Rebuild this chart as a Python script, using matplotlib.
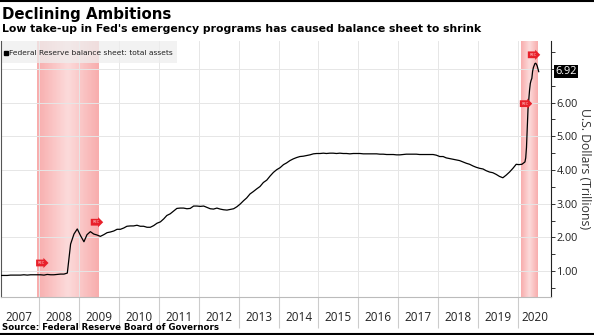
import numpy as np
import pandas as pd
import matplotlib
matplotlib.use("Agg")
import matplotlib.pyplot as plt
from matplotlib.patches import Rectangle

# Fed balance sheet, total assets (USD trillions), monthly 2007-2019
monthly = {
    2007: [0.87, 0.87, 0.87, 0.88, 0.88, 0.88, 0.88, 0.89, 0.88, 0.89, 0.89, 0.89],
    2008: [0.89, 0.88, 0.90, 0.89, 0.89, 0.90, 0.91, 0.91, 0.94, 1.80, 2.10, 2.25],
    2009: [2.05, 1.87, 2.08, 2.17, 2.10, 2.07, 2.03, 2.08, 2.14, 2.16, 2.19, 2.24],
    2010: [2.24, 2.28, 2.33, 2.34, 2.34, 2.36, 2.33, 2.33, 2.30, 2.30, 2.35, 2.42],
    2011: [2.46, 2.55, 2.65, 2.70, 2.78, 2.86, 2.87, 2.87, 2.85, 2.86, 2.93, 2.93],
    2012: [2.92, 2.93, 2.89, 2.85, 2.84, 2.87, 2.84, 2.82, 2.81, 2.83, 2.85, 2.91],
    2013: [2.99, 3.09, 3.17, 3.29, 3.36, 3.44, 3.51, 3.63, 3.70, 3.82, 3.93, 4.01],
    2014: [4.07, 4.16, 4.21, 4.28, 4.33, 4.37, 4.40, 4.41, 4.43, 4.45, 4.48, 4.49],
    2015: [4.49, 4.50, 4.49, 4.50, 4.50, 4.49, 4.50, 4.49, 4.49, 4.48, 4.49, 4.49],
    2016: [4.49, 4.48, 4.48, 4.48, 4.48, 4.48, 4.47, 4.47, 4.46, 4.46, 4.46, 4.45],
    2017: [4.45, 4.46, 4.47, 4.47, 4.47, 4.47, 4.46, 4.46, 4.46, 4.46, 4.46, 4.44],
    2018: [4.40, 4.40, 4.36, 4.34, 4.32, 4.30, 4.28, 4.24, 4.20, 4.17, 4.12, 4.08],
    2019: [4.05, 4.03, 3.98, 3.94, 3.92, 3.87, 3.81, 3.77, 3.85, 3.94, 4.05, 4.17],
}
dates_2020 = ["2020-01-08", "2020-02-05", "2020-03-04", "2020-03-11", "2020-03-18",
              "2020-03-25", "2020-04-01", "2020-04-08", "2020-04-15", "2020-04-22",
              "2020-04-29", "2020-05-06", "2020-05-13", "2020-05-20", "2020-05-27",
              "2020-06-03", "2020-06-10", "2020-06-17", "2020-06-24", "2020-07-01",
              "2020-07-08"]
values_2020 = [4.16, 4.17, 4.24, 4.36, 4.67, 5.25, 5.81, 6.08, 6.37, 6.57,
               6.66, 6.72, 6.93, 7.04, 7.10, 7.16, 7.17, 7.14, 7.09, 7.00, 6.92]

recessions = [(2007.95, 2009.5), (2020.08, 2020.5)]
tag_x = [2008.05, 2009.42, 2020.17, 2020.37]
tag_y = [1.24, 2.45, 5.97, 7.42]
years = list(range(2007, 2021))
y_ticks = [1, 2, 3, 4, 5, 6]
last_value = 6.92


def decimal_year(ts):
    ts = pd.to_datetime(ts)
    return ts.year + (ts.dayofyear - 1) / 365.0


dates = []
values = []
for yr, vals in monthly.items():
    for m, v in enumerate(vals):
        dates.append(f"{yr}-{m + 1:02d}-15")
        values.append(v)
dates += dates_2020
values += values_2020
x = np.array([decimal_year(d) for d in dates])
y = np.array(values)

fig = plt.figure(figsize=(5.94, 3.35), dpi=100)
ax = fig.add_axes([0.002, 1 - 297 / 335, 550 / 594, 256 / 335])
xmin, xmax = 2007.05, 2020.83
ymin, ymax = 0.23, 7.83
ax.set_xlim(xmin, xmax)
ax.set_ylim(ymin, ymax)

# shaded recession bands, lighter in the middle
grad = 1 - np.abs(np.linspace(-1, 1, 64))[None, :]
cmap = matplotlib.colors.LinearSegmentedColormap.from_list("rb", ["#f8adad", "#fcdada"])
for x0, x1 in recessions:
    ax.imshow(grad, extent=(x0, x1, ymin, ymax), aspect="auto", cmap=cmap,
              zorder=0, interpolation="bilinear")

ax.grid(True, color="#e6e6e6", linewidth=0.7, zorder=1)
ax.set_axisbelow(True)

ax.plot(x, y, color="black", linewidth=0.9, zorder=3)

for tx, ty in zip(tag_x, tag_y):
    ax.annotate("REC", (tx, ty), fontsize=2.5, color="#ffcccc", ha="center", va="center",
                bbox=dict(boxstyle="rarrow,pad=0.4", fc="#e8202a", ec="none"), zorder=4)

# legend strip
ax.add_patch(Rectangle((0, 0.915), 0.32, 0.085, transform=ax.transAxes,
                       fc="#eeeeee", ec="none", alpha=0.75, zorder=2))
ax.plot([0.008], [0.955], marker="s", color="black", markersize=3.2,
        transform=ax.transAxes, zorder=5)
ax.text(0.015, 0.955, "Federal Reserve balance sheet: total assets", transform=ax.transAxes,
        fontsize=5.4, va="center", ha="left", color="#222222", zorder=5)

# x axis: boundaries as major ticks, year labels in between
ax.set_xticks(years[1:])
ax.set_xticklabels([])
ax.set_xticks([yr + 0.5 if yr < 2020 else (2020 + xmax) / 2 for yr in years], minor=True)
ax.set_xticklabels([str(yr) for yr in years], minor=True, fontsize=8.5,
                   family="Open Sans", color="#222222")
ax.tick_params(axis="x", which="major", length=22, color="#cccccc", width=0.8)
ax.tick_params(axis="x", which="minor", length=0, pad=10)

# y axis on the right
ax.yaxis.tick_right()
ax.set_yticks(y_ticks + [7])
ax.set_yticklabels([f"{v:.2f}" for v in y_ticks] + [""], fontsize=7.8,
                   family="Open Sans", color="#222222")
ax.set_yticks(np.arange(0.5, 8, 1), minor=True)
ax.tick_params(axis="y", which="both", length=3, width=0.7, color="#333333", pad=1)
ax.yaxis.set_label_position("right")
ax.set_ylabel("U.S. Dollars (Trillions)", rotation=270, fontsize=8.8,
              family="Open Sans", color="#333333", labelpad=9)

ax.spines["top"].set_visible(False)
ax.spines["bottom"].set_color("#bbbbbb")
ax.spines["left"].set_color("#555555")
ax.spines["right"].set_color("#222222")
ax.spines["right"].set_linewidth(0.8)

ax.annotate(f"{last_value:.2f}", (xmax, last_value), xytext=(3, 0),
            textcoords="offset points", fontsize=7.8, color="white", va="center",
            ha="left", family="Open Sans",
            bbox=dict(boxstyle="square,pad=0.12", fc="black", ec="none"),
            annotation_clip=False, zorder=6)

fig.text(0.004, 0.958, "Declining Ambitions", fontsize=10.8, fontweight="bold",
         va="center", ha="left")
fig.text(0.004, 0.912, "Low take-up in Fed's emergency programs has caused balance sheet to shrink",
         fontsize=7.8, fontweight="bold", va="center", ha="left")
fig.text(0.004, 0.022, "Source: Federal Reserve Board of Governors", fontsize=6.2,
         fontweight="bold", va="center", ha="left")
fig.add_artist(plt.Line2D([0, 1], [0.997, 0.997], color="black", linewidth=1.5))
fig.add_artist(plt.Line2D([0, 1], [0.003, 0.003], color="black", linewidth=1.5))

fig.savefig("out.png", dpi=100)
